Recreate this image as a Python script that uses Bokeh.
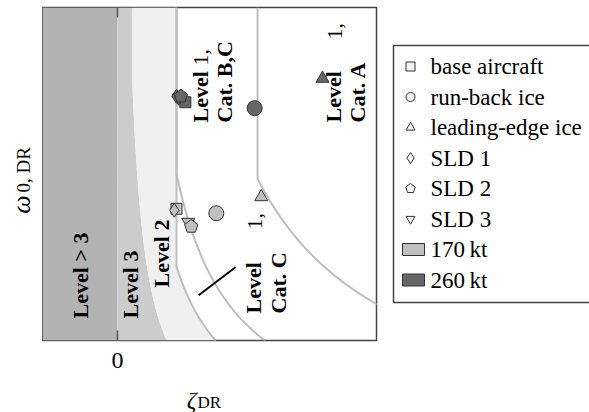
import numpy as np
from bokeh.plotting import figure
from bokeh.models import Range1d, BoxAnnotation, FixedTicker
from bokeh.layouts import row, column
from bokeh.embed import file_html
from bokeh.resources import INLINE
from bokeh.core.properties import value

# ---------------- data ----------------
configs = ["base aircraft", "run-back ice", "leading-edge ice", "SLD 1", "SLD 2", "SLD 3"]
marker_types = ["square", "circle", "triangle", "diamond", "pentagon", "inverted_triangle"]

zeta_170 = [0.080, 0.134, 0.195, 0.077, 0.100, 0.096]
omega_170 = [1.64, 1.61, 1.72, 1.63, 1.52, 1.55]
zeta_260 = [0.092, 0.186, 0.278, 0.080, 0.086, 0.083]
omega_260 = [2.36, 2.32, 2.52, 2.40, 2.40, 2.39]

speeds = ["170\u2009kt", "260\u2009kt"]
speed_colors = ["#bfbfbf", "#666666"]

x_ticks = [0]

# requirement limits: (zeta_min, zeta*omega_min)
lim_level2 = (0.02, 0.05)
lim_cat_c = (0.08, 0.10)
lim_cat_bc = (0.08, 0.15)
lim_cat_a = (0.19, 0.35)

trend_zeta = [0.110, 0.160]
trend_omega = [1.056, 1.245]

x_lo, x_hi = -0.1017, 0.3512
y_lo, y_hi = 0.75, 3.0
FL, FT = 42, 7          # frame left / top (page px)
FW, FH = 334, 333
H = 412
MAIN_H = 380
px_x = FW / (x_hi - x_lo)
px_y = FH / (y_hi - y_lo)

SERIF = "Liberation Serif"


def strip(w, h, x0=0):
    f = figure(frame_width=w, frame_height=h, x_range=Range1d(x0, x0 + w), y_range=Range1d(0, h),
               output_backend="svg", toolbar_location=None, min_border=0,
               x_axis_location=None, y_axis_location=None)
    f.grid.visible = False
    f.outline_line_color = None
    f.background_fill_color = "white"
    f.border_fill_color = "white"
    return f


# ---------------- main plot ----------------
p = figure(frame_width=FW, frame_height=FH, x_range=Range1d(x_lo, x_hi), y_range=Range1d(y_lo, y_hi),
           output_backend="svg", toolbar_location=None,
           min_border_left=0, min_border_right=2, min_border_top=FT,
           min_border_bottom=MAIN_H - FT - FH,
           x_axis_location="below", y_axis_location=None)
p.grid.visible = False
p.outline_line_color = "#444444"
p.outline_line_width = 1.5
p.background_fill_color = "white"
p.border_fill_color = "white"

xa = p.xaxis[0]
xa.ticker = FixedTicker(ticks=x_ticks)
xa.major_label_text_font = SERIF
xa.major_label_text_font_size = "24px"
xa.major_label_text_color = "black"
xa.major_label_standoff = 12
xa.major_tick_in = 10
xa.major_tick_out = 0
xa.major_tick_line_color = "#555555"
xa.major_tick_line_width = 1.5
xa.minor_tick_line_color = None
xa.axis_line_color = None

# regions
p.add_layout(BoxAnnotation(right=0, fill_color="#b3b3b3", fill_alpha=1, line_color=None, level="underlay"))

kinks = [l[1] / l[0] for l in (lim_level2, lim_cat_c, lim_cat_bc, lim_cat_a)]
om = np.union1d(np.linspace(y_lo, y_hi, 300), kinks)


def bound(lim):
    return np.maximum(lim[0], lim[1] / om)


z2 = bound(lim_level2)
zc = bound(lim_cat_c)
p.harea(x1=np.zeros_like(om), x2=z2, y=om, fill_color="#cccccc")
p.harea(x1=z2, x2=zc, y=om, fill_color="#f0f0f0")

for lim in (lim_cat_c, lim_cat_bc, lim_cat_a):
    p.line(bound(lim), om, line_color="#bdbdbd", line_width=2)

p.line(trend_zeta, trend_omega, line_color="black", line_width=2)

# inward tick on the top edge at the x ticks
p.segment(x0=x_ticks, y0=[y_hi] * len(x_ticks), x1=x_ticks, y1=[y_hi - 10 / px_y] * len(x_ticks),
          line_color="#555555", line_width=1.5)


def pentagon(xc, yc, r, sx, sy):
    a = np.pi / 2 + np.arange(5) * 2 * np.pi / 5
    return list(xc + r * np.cos(a) / sx), list(yc + r * np.sin(a) / sy)


plot_sizes = {"square": 11, "circle": 15, "triangle": 13, "diamond": 14, "inverted_triangle": 13}
for zs, os_, col in ((zeta_170, omega_170, speed_colors[0]), (zeta_260, omega_260, speed_colors[1])):
    for i in [0, 1, 2, 5, 3, 4]:
        m = marker_types[i]
        if m == "pentagon":
            xs, ys = pentagon(zs[i], os_[i], 7, px_x, px_y)
            p.patch(xs, ys, fill_color=col, line_color="#333333", line_width=1)
        else:
            p.scatter([zs[i]], [os_[i]], marker=m, size=plot_sizes[m], fill_color=col,
                      line_color="#333333", line_width=1)


# region labels (positions given in page pixels, converted to data)
def zx(px):
    return x_lo + (px - FL) / px_x


def oy(py):
    return y_hi - (py - FT) / px_y


FS = value("22px")
p.text(x=[zx(80), zx(130), zx(161)], y=[oy(275), oy(284), oy(253)],
       text=["Level > 3", "Level 3", "Level 2"], angle=np.pi / 2,
       text_font=value(SERIF), text_font_style="bold", text_font_size=FS,
       text_align="center", text_baseline="middle", text_color="black")
p.text(x=[zx(200), zx(224), zx(333), zx(357), zx(253), zx(278)],
       y=[oy(122), oy(122), oy(122), oy(122), oy(313), oy(313)],
       text=["Level", "Cat. B,C", "Level", "Cat. A", "Level", "Cat. C"], angle=np.pi / 2,
       text_font=value(SERIF), text_font_style="bold", text_font_size=FS,
       text_align="left", text_baseline="middle", text_color="black")
p.text(x=[zx(200), zx(334), zx(254)], y=[oy(65), oy(39), oy(229)],
       text=["1,", "1,", "1,"], angle=np.pi / 2,
       text_font=value(SERIF), text_font_size=FS,
       text_align="left", text_baseline="middle", text_color="black")

# ---------------- y-axis label strip ----------------
ly = strip(FL, H)
ly.text(x=[21], y=[H - 204], text=["ω"], angle=np.pi / 2, text_font=value(SERIF),
        text_font_style="italic", text_font_size=value("26px"), text_align="center",
        text_baseline="middle", text_color="black")
ly.text(x=[23], y=[H - 192], text=["0, DR"], angle=np.pi / 2, text_font=value(SERIF),
        text_font_size=value("19px"), text_align="left", text_baseline="middle", text_color="black")

# ---------------- x-axis label strip ----------------
SW = FW + 2
SH = H - MAIN_H
lx = strip(SW, SH, FL)
lx.text(x=[191], y=[H - 399], text=["ζ"], text_font=value(SERIF), text_font_style="italic",
        text_font_size=value("24px"), text_align="center", text_baseline="middle", text_color="black")
lx.text(x=[197], y=[H - 402], text=["DR"], text_font=value(SERIF),
        text_font_size=value("17px"), text_align="left", text_baseline="middle", text_color="black")

# ---------------- legend ----------------
LX = FL + SW
LW = 589 - LX
lg = strip(LW, H, LX)

lg.quad(left=[393], right=[LX + LW + 40], top=[H - 45], bottom=[H - 302], fill_color=None,
        line_color="#444444", line_width=1.5)

row_y = [H - (66 + 30.5 * i) for i in range(len(configs) + len(speeds))]
leg_sizes = {"square": 9, "circle": 9, "triangle": 9, "diamond": 11, "inverted_triangle": 9}
for i, m in enumerate(marker_types):
    if m == "pentagon":
        xs, ys = pentagon(410, row_y[i], 5, 1, 1)
        lg.patch(xs, ys, fill_color="#f2f2f2", line_color="#333333", line_width=1)
    else:
        lg.scatter([410], [row_y[i]], marker=m, size=leg_sizes[m], fill_color="#f2f2f2",
                   line_color="#333333", line_width=1)
for j, c in enumerate(speed_colors):
    lg.rect([413], [row_y[len(configs) + j]], width=22, height=12, fill_color=c,
            line_color="#333333", line_width=1)

lg.text(x=[430] * len(row_y), y=row_y, text=configs + speeds,
        text_font=value(SERIF), text_font_size=value("23px"),
        text_align="left", text_baseline="middle", text_color="black")

layout = row(ly, column(p, lx), lg)
open("out.html", "w").write(file_html(layout, INLINE))
